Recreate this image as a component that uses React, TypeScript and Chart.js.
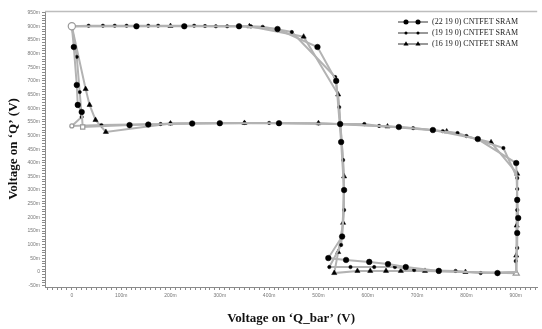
import React, { useEffect, useRef } from "react";
import { Chart, registerables } from "chart.js";
Chart.register(...registerables);

const seriesNames = ["(22 19 0) CNTFET SRAM", "(19 19 0) CNTFET SRAM", "(16 19 0) CNTFET SRAM"];

const s1X = [0, 0.131, 0.228, 0.339, 0.417, 0.498, 0.536, 0.546, 0.552, 0.548, 0.520, 0.556, 0.603, 0.641, 0.677, 0.744, 0.863, 0.901, 0.903, 0.905, 0.903, 0.901, 0.823, 0.732, 0.663, 0.544, 0.420, 0.300, 0.244, 0.155, 0.117, 0.022, 0.020, 0.012, 0.010, 0.004, 0];
const s1Y = [0.900, 0.900, 0.900, 0.900, 0.890, 0.824, 0.700, 0.476, 0.300, 0.130, 0.051, 0.044, 0.037, 0.029, 0.018, 0.004, -0.004, 0.000, 0.143, 0.198, 0.264, 0.399, 0.487, 0.520, 0.531, 0.542, 0.545, 0.545, 0.544, 0.540, 0.538, 0.531, 0.586, 0.612, 0.685, 0.824, 0.900];

const s2X = [0, 0.034, 0.063, 0.087, 0.111, 0.155, 0.175, 0.248, 0.270, 0.292, 0.315, 0.363, 0.387, 0.446, 0.534, 0.542, 0.550, 0.552, 0.546, 0.522, 0.565, 0.613, 0.655, 0.694, 0.778, 0.829, 0.901, 0.900, 0.903, 0.903, 0.903, 0.903, 0.875, 0.800, 0.782, 0.752, 0.692, 0.623, 0.593, 0.544, 0.500, 0.400, 0.350, 0.200, 0.180, 0.060, 0.000, 0.020, 0.016, 0.010, 0];
const s2Y = [0.900, 0.902, 0.902, 0.902, 0.902, 0.902, 0.902, 0.902, 0.901, 0.900, 0.900, 0.900, 0.898, 0.879, 0.714, 0.604, 0.410, 0.227, 0.099, 0.018, 0.018, 0.018, 0.018, 0.007, 0.004, -0.004, 0.000, 0.040, 0.088, 0.227, 0.304, 0.344, 0.454, 0.498, 0.509, 0.516, 0.527, 0.535, 0.542, 0.542, 0.544, 0.546, 0.546, 0.544, 0.542, 0.538, 0.535, 0.568, 0.659, 0.788, 0.900];

const s3X = [0, 0.200, 0.360, 0.470, 0.540, 0.552, 0.550, 0.540, 0.532, 0.579, 0.605, 0.637, 0.667, 0.716, 0.798, 0.901, 0.901, 0.902, 0.903, 0.850, 0.760, 0.640, 0.500, 0.350, 0.200, 0.069, 0.048, 0.036, 0.028, 0];
const s3Y = [0.900, 0.901, 0.900, 0.862, 0.650, 0.350, 0.180, 0.073, -0.004, 0.004, 0.004, 0.004, 0.004, 0.004, 0.000, -0.005, 0.060, 0.170, 0.360, 0.475, 0.515, 0.533, 0.545, 0.546, 0.544, 0.513, 0.557, 0.612, 0.670, 0.900];

const xTickValues = [0, 0.1, 0.2, 0.3, 0.4, 0.5, 0.6, 0.7, 0.8, 0.9];
const xTickLabels = ["0", "100m", "200m", "300m", "400m", "500m", "600m", "700m", "800m", "900m"];
const yTickValues = [-0.05, 0, 0.05, 0.1, 0.15, 0.2, 0.25, 0.3, 0.35, 0.4, 0.45, 0.5, 0.55, 0.6, 0.65, 0.7, 0.75, 0.8, 0.85, 0.9, 0.95];
const yTickLabels = ["-50m", "0", "50m", "100m", "150m", "200m", "250m", "300m", "350m", "400m", "450m", "500m", "550m", "600m", "650m", "700m", "750m", "800m", "850m", "900m", "950m"];

const xTitle = "Voltage on \u2018Q_bar\u2019 (V)";
const yTitle = "Voltage on \u2018Q\u2019 (V)";

const LINE = "#b3b3b3";
const GREY = "#9a9a9a";
const MARK = ["circle", "circle", "triangle"];
const RAD = [2.8, 1.7, 3.0];

function labelFor(values: number[], labels: string[]) {
  return (v: number) => {
    for (let i = 0; i < values.length; i++) {
      if (Math.abs(v - values[i]) < 1e-6) return labels[i];
    }
    return "";
  };
}

function drawMarker(ctx: CanvasRenderingContext2D, kind: string, x: number, y: number, r: number) {
  ctx.beginPath();
  if (kind === "triangle") {
    ctx.moveTo(x, y - r);
    ctx.lineTo(x + r * 0.95, y + r * 0.6);
    ctx.lineTo(x - r * 0.95, y + r * 0.6);
    ctx.closePath();
  } else {
    ctx.arc(x, y, r, 0, Math.PI * 2);
  }
  ctx.fillStyle = "#000";
  ctx.fill();
}

export default function App() {
  const ref = useRef<HTMLCanvasElement>(null);
  useEffect(() => {
    document.body.style.margin = "0";
    const toPts = (xs: number[], ys: number[]) => xs.map((x, i) => ({ x, y: ys[i] }));
    const all = [toPts(s1X, s1Y), toPts(s2X, s2Y), toPts(s3X, s3Y)];
    const near = (a: number, b: number, e = 0.004) => Math.abs(a - b) < e;

    const kindOf = (ds: number, p: any, idx: number, len: number) => {
      if (near(p.x, 0, 1e-6) && near(p.y, 0.9, 1e-6)) return ds === 0 && idx === 0 ? "start" : "none";
      if (p.x > 0.89 && Math.abs(p.y) < 0.008) return ds === 2 ? "end" : "none";
      if (ds === 0 && near(p.x, 0.022) && near(p.y, 0.531)) return "square";
      if (ds === 1 && near(p.x, 0, 1e-6) && near(p.y, 0.535)) return "ring";
      return "normal";
    };

    const datasets = all.map((pts, ds) => ({
      label: seriesNames[ds],
      data: pts,
      showLine: true,
      borderColor: LINE,
      borderWidth: 2,
      tension: 0,
      pointStyle: (c: any) => {
        const k = kindOf(ds, c.raw, c.dataIndex, pts.length);
        if (k === "start" || k === "ring") return "circle";
        if (k === "end") return "triangle";
        if (k === "square") return "rect";
        return MARK[ds];
      },
      pointRadius: (c: any) => {
        const k = kindOf(ds, c.raw, c.dataIndex, pts.length);
        if (k === "none") return 0;
        if (k === "start") return 3.6;
        if (k === "end") return 3.6;
        if (k === "square") return 3;
        if (k === "ring") return 2;
        return RAD[ds];
      },
      pointBackgroundColor: (c: any) => {
        const k = kindOf(ds, c.raw, c.dataIndex, pts.length);
        return k === "normal" ? "#000" : "#fff";
      },
      pointBorderColor: (c: any) => {
        const k = kindOf(ds, c.raw, c.dataIndex, pts.length);
        return k === "normal" ? "#000" : GREY;
      },
      pointBorderWidth: (c: any) => {
        const k = kindOf(ds, c.raw, c.dataIndex, pts.length);
        return k === "normal" ? 0.5 : 1.2;
      },
      pointHoverRadius: 0,
    }));

    const framePlugin = {
      id: "frameAndLegend",
      afterDraw(chart: any) {
        const { ctx, chartArea } = chart;
        ctx.save();
        ctx.strokeStyle = "#bdbdbd";
        ctx.lineWidth = 1.5;
        ctx.beginPath();
        ctx.moveTo(chartArea.left, chartArea.top + 0.5);
        ctx.lineTo(chartArea.right, chartArea.top + 0.5);
        ctx.stroke();

        // legend
        const lx0 = 398, lx1 = 428, tx = 432;
        chart.data.datasets.forEach((d: any, i: number) => {
          const y = 22 + 11 * i;
          ctx.strokeStyle = "#555";
          ctx.lineWidth = 1.2;
          ctx.beginPath();
          ctx.moveTo(lx0, y);
          ctx.lineTo(lx1, y);
          ctx.stroke();
          drawMarker(ctx, MARK[i], 406, y, RAD[i] * 0.9);
          drawMarker(ctx, MARK[i], 418, y, RAD[i] * 0.9);
          ctx.fillStyle = "#222";
          ctx.font = "8px 'Liberation Serif'";
          ctx.textAlign = "left";
          ctx.textBaseline = "middle";
          ctx.fillText(d.label, tx, y);
        });
        ctx.restore();
      },
    };

    const chart = new Chart(ref.current as HTMLCanvasElement, {
      type: "scatter",
      data: { datasets } as any,
      options: {
        animation: false,
        responsive: false,
        maintainAspectRatio: false,
        layout: { padding: { top: 11, right: 2, left: 0, bottom: 0 } },
        plugins: { legend: { display: false }, tooltip: { enabled: false } },
        scales: {
          x: {
            type: "linear",
            min: -0.0544,
            max: 0.9435,
            afterFit: (s: any) => { s.height = 42; },
            border: { display: true, color: "#8a8a8a", width: 1 },
            grid: { drawOnChartArea: false, drawTicks: true, tickLength: 3, tickColor: "#8a8a8a" },
            ticks: {
              stepSize: 0.01,
              maxTicksLimit: 1000,
              includeBounds: false,
              autoSkip: false,
              maxRotation: 0,
              minRotation: 0,
              padding: 3,
              color: "#777",
              font: { size: 5, family: "'Liberation Sans'" },
              callback: labelFor(xTickValues, xTickLabels) as any,
            },
            title: {
              display: true,
              text: xTitle,
              color: "#111",
              padding: { top: 3, bottom: 3 },
              font: { size: 13, weight: "bold", family: "'Liberation Serif'" },
            },
          },
          y: {
            type: "linear",
            min: -0.055,
            max: 0.956,
            afterFit: (s: any) => { s.width = 45; },
            border: { display: true, color: "#8a8a8a", width: 1 },
            grid: { drawOnChartArea: false, drawTicks: true, tickLength: 3, tickColor: "#8a8a8a" },
            ticks: {
              stepSize: 0.01,
              maxTicksLimit: 1000,
              includeBounds: false,
              autoSkip: false,
              padding: 2,
              color: "#777",
              font: { size: 5, family: "'Liberation Sans'" },
              callback: labelFor(yTickValues, yTickLabels) as any,
            },
            title: {
              display: true,
              text: yTitle,
              color: "#111",
              padding: { top: 6, bottom: 6 },
              font: { size: 13, weight: "bold", family: "'Liberation Serif'" },
            },
          },
        },
      } as any,
      plugins: [framePlugin],
    });
    return () => chart.destroy();
  }, []);
  return (
    <div style={{ width: 542, height: 329, position: "relative" }}>
      <canvas ref={ref} width={542} height={329} />
    </div>
  );
}
